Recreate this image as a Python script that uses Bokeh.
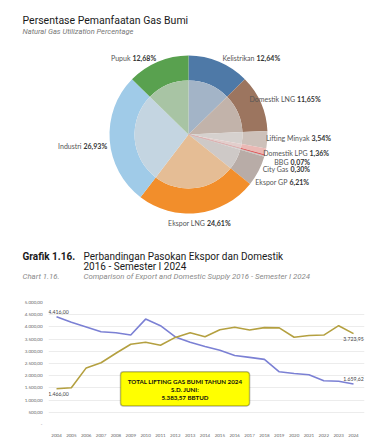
import numpy as np
from bokeh.plotting import figure
from bokeh.models import Range1d, ColumnDataSource, BoxAnnotation, FixedTicker, Label
from bokeh.layouts import column
from bokeh.embed import file_html
from bokeh.resources import INLINE

# ---------------- data ----------------
categories = ["Kelistrikan", "Domestik LNG", "Lifting Minyak", "Domestik LPG", "BBG",
              "City Gas", "Ekspor GP", "Ekspor LNG", "Industri", "Pupuk"]
shares = [12.64, 11.65, 3.54, 1.36, 0.07, 0.30, 6.21, 24.61, 26.93, 12.68]
share_labels = ["12,64%", "11,65%", "3,54%", "1,36%", "0,07%", "0,30%", "6,21%",
                "24,61%", "26,93%", "12,68%"]

years = [2004, 2005, 2006, 2007, 2008, 2009, 2010, 2011, 2012, 2013, 2014,
         2015, 2016, 2017, 2018, 2019, 2020, 2021, 2022, 2023, 2024]
export_supply = [4416.00, 4190, 4000, 3800, 3760, 3670, 4320, 4050, 3590, 3370, 3200,
                 3040, 2830, 2750, 2670, 2160, 2090, 2040, 1790, 1775, 1659.62]
domestic_supply = [1466.00, 1507, 2320, 2530, 2920, 3290, 3370, 3250, 3570, 3760, 3600,
                   3880, 3985, 3870, 3970, 3960, 3575, 3650, 3665, 4050, 3723.95]
y_ticks = [0, 500, 1000, 1500, 2000, 2500, 3000, 3500, 4000, 4500, 5000]
y_tick_labels = ["-", "500,00", "1.000,00", "1.500,00", "2.000,00", "2.500,00",
                 "3.000,00", "3.500,00", "4.000,00", "4.500,00", "5.000,00"]
box_lines = ["TOTAL LIFTING GAS BUMI TAHUN 2024", "S.D. JUNI:", "5.383,57 BBTUD"]

title1 = "Persentase Pemanfaatan Gas Bumi"
subtitle1 = "Natural Gas Utilization Percentage"
title2_num = "Grafik 1.16."
title2_a = "Perbandingan Pasokan Ekspor dan Domestik"
title2_b = "2016 - Semester I 2024"
sub2_num = "Chart 1.16."
sub2 = "Comparison of Export and Domestic Supply 2016 - Semester I 2024"

# ---------------- styles ----------------
colors = ["#4e79a7", "#9c755f", "#cdc1ba", "#eab9b5", "#e15759",
          "#cbc5c3", "#b8aca7", "#f28e2b", "#a0cbe8", "#59a14f"]


def blend(c, bg=(220, 220, 220), a=0.6):
    r, g, b = int(c[1:3], 16), int(c[3:5], 16), int(c[5:7], 16)
    return "#%02x%02x%02x" % tuple(int(round(v * (1 - a) + w * a)) for v, w in zip((r, g, b), bg))


inner_colors = [blend(c) for c in colors]
line_alpha = [1 if c == "BBG" else 0 for c in categories]

# label anchor: (boundary x between name and value, y in px from top)
label_pos = {
    "Kelistrikan": (255, 57), "Domestik LNG": (295.5, 98), "Lifting Minyak": (310, 137),
    "Domestik LPG": (308, 152), "BBG": (289, 161), "City Gas": (289, 168),
    "Ekspor GP": (288, 181), "Ekspor LNG": (205.5, 222), "Industri": (82, 145),
    "Pupuk": (131, 57),
}

W = 375
H1 = 290


def no_align(p):
    if "frame_align" in p.properties():
        p.frame_align = False


p1 = figure(width=W, height=H1, x_range=Range1d(0, W), y_range=Range1d(0, H1),
            output_backend="svg", toolbar_location=None, min_border=0,
            x_axis_location=None, y_axis_location=None)
p1.grid.visible = False
p1.outline_line_color = None
no_align(p1)


def lab(p, x, y, t, size, color="#1a1a1a", style="normal", font="Roboto",
        align="left", baseline="middle", **kw):
    p.add_layout(Label(x=x, y=y, text=t, text_font=font, text_font_size=size,
                       text_color=color, text_font_style=style, text_align=align,
                       text_baseline=baseline, **kw))


cx, cy = 188, H1 - 134
tot = sum(shares)
cum = np.concatenate([[0.0], np.cumsum(shares)]) / tot * 2 * np.pi
src = ColumnDataSource(dict(start=np.pi / 2 - cum[1:], end=np.pi / 2 - cum[:-1],
                            color=colors, inner=inner_colors, la=line_alpha))
p1.annular_wedge(x=cx, y=cy, inner_radius=54, outer_radius=79, start_angle="start",
                 end_angle="end", fill_color="color", line_color="color", line_alpha="la",
                 line_width=1, source=src)
p1.wedge(x=cx, y=cy, radius=54, start_angle="start", end_angle="end",
         fill_color="inner", line_color="inner", line_alpha="la", line_width=1, source=src)

for c, s in zip(categories, share_labels):
    bx0, by0 = label_pos[c]
    lab(p1, bx0 - 1, H1 - by0, c, "7px", "#555555", font="Lato", align="right")
    lab(p1, bx0 + 1, H1 - by0, s, "7px", "#333333", style="bold", font="Lato")

# titles
lab(p1, 22, H1 - 20, title1, "10.5px")
lab(p1, 22, H1 - 31, subtitle1, "7.5px", "#777777", style="italic")
lab(p1, 22, H1 - 256, title2_num, "10px", style="bold")
lab(p1, 83, H1 - 256, title2_a, "10px")
lab(p1, 83, H1 - 265.5, title2_b, "10px")
lab(p1, 22, H1 - 276, sub2_num, "7.8px", "#8a8a8a", style="italic")
lab(p1, 83, H1 - 276, sub2, "7.8px", "#8a8a8a", style="italic")

# ---------------- line chart ----------------
H2 = 439 - H1
BL, BR = 48, 11
p2 = figure(width=W, height=H2, x_range=Range1d(2003.46, 2024.74), y_range=Range1d(0, 5000),
            output_backend="svg", toolbar_location=None, min_border_left=BL,
            min_border_right=BR, min_border_top=12, min_border_bottom=12)
no_align(p2)
p2.outline_line_color = None
p2.xgrid.visible = False
p2.ygrid.grid_line_color = "#ececec"
p2.ygrid.ticker = FixedTicker(ticks=y_ticks)
for ax in (p2.xaxis, p2.yaxis):
    ax.axis_line_color = None
    ax.major_tick_line_color = None
    ax.minor_tick_line_color = None
    ax.major_label_text_font = "Lato"
    ax.major_label_text_font_size = "4.5px"
    ax.major_label_text_color = "#666666"
p2.xaxis.major_label_standoff = 3
p2.yaxis.major_label_standoff = 0
p2.yaxis.ticker = FixedTicker(ticks=y_ticks)
p2.yaxis.major_label_overrides = {t: l for t, l in zip(y_ticks, y_tick_labels)}
p2.xaxis.ticker = FixedTicker(ticks=years)
p2.xaxis.major_label_overrides = {y: str(y) for y in years}

blue = "#7b80d4"
gold = "#b4a040"
p2.line(years, export_supply, line_color=blue, line_width=1.6)
p2.line(years, domestic_supply, line_color=gold, line_width=1.6)


def fmt(v):
    return f"{v:,.2f}".replace(",", "X").replace(".", ",").replace("X", ".")


for xv, yv, above, xo in [(years[0], export_supply[0], True, 2), (years[0], domestic_supply[0], False, 2),
                          (years[-1], domestic_supply[-1], False, 0), (years[-1], export_supply[-1], True, 0)]:
    lab(p2, xv, yv, fmt(yv), "5.2px", "#444444", font="Lato", align="center",
        baseline="bottom" if above else "top", y_offset=3 if above else -3, x_offset=xo)

box = BoxAnnotation(left=2008.31, right=2017.0, bottom=760, top=2160, fill_color="#ffff00",
                    fill_alpha=1, line_color="#111111", line_width=1.5, border_radius=3)
p2.add_layout(box)
bxc = (2008.31 + 2017.0) / 2
for t, yv in zip(box_lines, [1772, 1440, 1120]):
    lab(p2, bxc, yv, t, "6.2px", "#111111", style="bold", font="Lato", align="center")

layout = column(p1, p2, spacing=0)
open("out.html", "w").write(file_html(layout, INLINE))
